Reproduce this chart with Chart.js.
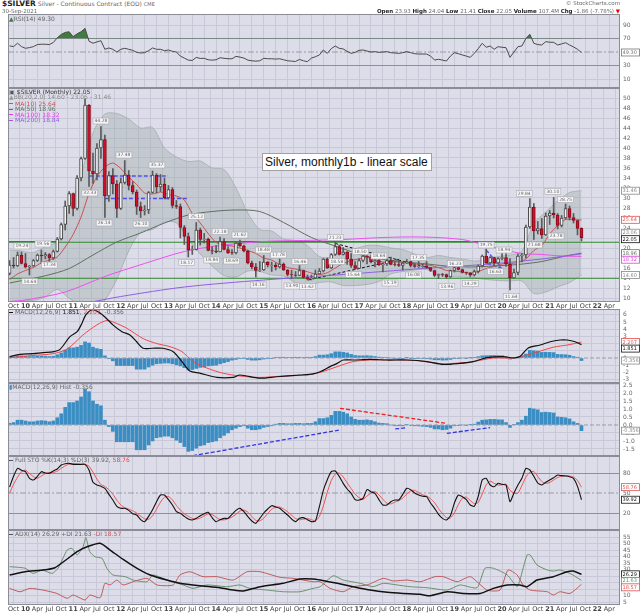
<!DOCTYPE html>
<html>
<head>
<meta charset="utf-8">
<title>$SILVER monthly</title>
<script src="https://cdn.jsdelivr.net/npm/chart.js@4.4.1/dist/chart.umd.min.js"></script>
<style>
  html, body { margin: 0; padding: 0; background: #fff; }
  body { position: relative; width: 640px; height: 614px; overflow: hidden; font-family: "DejaVu Sans", sans-serif; }
  canvas { position: absolute; left: 0; }
  .txt { position: absolute; white-space: nowrap; color: #666; font-size: 6px; line-height: 7px; z-index: 5; }
  .txt b { color: #222; }
  .sw { display: inline-block; width: 4px; height: 1px; vertical-align: middle; margin-right: 2px; }
  #note { position: absolute; left: 262px; top: 153px; width: 166px; height: 16px; background: #fff; border: 1px solid #a0a0a0;
          font: 12px "Liberation Sans", Arial, sans-serif; line-height: 16px; padding-left: 2px; color: #111; z-index: 5; }
</style>
</head>
<body>
<div class="txt" style="left:2px;top:0px;"><b style="font-size:7.5px">$SILVER</b> Silver - Continuous Contract (EOD) <span style="font-size:5px">CME</span></div>
<div class="txt" style="left:2px;top:8px;font-size:5.5px">30-Sep-2021</div>
<div class="txt" style="right:20px;top:0px;font-size:5.5px">&copy; StockCharts.com</div>
<div class="txt" style="right:20px;top:8px;font-size:5.5px"><b>Open</b> 23.93 <b>High</b> 24.04 <b>Low</b> 21.41 <b>Close</b> 22.05 <b>Volume</b> 107.4M <b>Chg</b> -1.86 (-7.78%) <span style="color:#e00">&#9660;</span></div>

<div class="txt" style="left:9px;top:15px;"><span style="color:#3e7d3e">&#9650;</span>RSI(14) 49.30</div>

<div class="txt" style="left:9px;top:88px;color:#333"><span style="color:#555">&#9635;</span> $SILVER (Monthly) 22.05</div>
<div class="txt" style="left:9px;top:93px;color:#888"><span style="color:#999">&#9650;</span>BB(20,2.0) 14.60 - 23.06 - 31.46</div>
<div class="txt" style="left:9px;top:99.5px;color:#c85050"><span class="sw" style="background:#c85050"></span>MA(10) 25.64</div>
<div class="txt" style="left:9px;top:105px;color:#5f705f"><span class="sw" style="background:#5f705f"></span>MA(50) 18.96</div>
<div class="txt" style="left:9px;top:110.5px;color:#e040e0"><span class="sw" style="background:#e040e0"></span>MA(100) 18.32</div>
<div class="txt" style="left:9px;top:116px;color:#9060e0"><span class="sw" style="background:#9060e0"></span>MA(200) 18.84</div>

<div id="note">Silver, monthly1b - linear scale</div>

<div class="txt" style="left:9px;top:308px;"><span class="sw" style="background:#111"></span>MACD(12,26,9) <span style="color:#111">1.851</span>, <span style="color:#e44">2.207</span>, -0.356</div>
<div class="txt" style="left:9px;top:383px;"><span style="color:#3b8ec3">&#9646;</span>MACD(12,26,9) Hist -0.356</div>
<div class="txt" style="left:9px;top:456px;"><span class="sw" style="background:#555"></span>Full STO %K(14,3) %D(3) 39.92, <span style="color:#e44">58.76</span></div>
<div class="txt" style="left:9px;top:530px;"><span class="sw" style="background:#555"></span>ADX(14) 26.29 +DI 21.63 <span style="color:#c05a5a">-DI 18.57</span></div>

<canvas id="rsi"></canvas>
<canvas id="main"></canvas>
<canvas id="macd"></canvas>
<canvas id="hist"></canvas>
<canvas id="sto"></canvas>
<canvas id="adx"></canvas>

<script>
// months are counted from Jan 2010 (= 0); monthly series start at Sep 2009
const firstMonth = -4;
const monthNames = ['Jan','Feb','Mar','Apr','May','Jun','Jul','Aug','Sep','Oct','Nov','Dec'];

// monthly candles, Sep 2009 .. Sep 2021
const openP = [14.9, 16.6, 16.4, 18.6,
  16.9, 16.2, 16.4, 17.5, 18.6, 18.4, 18.7, 18.0, 19.3, 21.8, 24.7, 28.4,
  30.9, 27.9, 34.0, 37.9, 48.6, 35.4, 34.8, 40.0, 41.7, 30.4, 34.5, 32.8,
  27.9, 33.1, 34.6, 32.5, 31.2, 28.3, 27.4, 27.6, 31.1, 34.6, 32.2, 32.8,
  30.0, 31.7, 28.5, 28.3, 24.1, 22.3, 19.6, 19.7, 23.6, 21.7, 21.8, 19.5,
  19.4, 19.2, 21.3, 19.7, 19.1, 19.0, 21.0, 20.4, 19.4, 17.0, 16.2, 15.5,
  15.6, 17.2, 16.5, 16.6, 16.2, 16.8, 15.6, 14.7, 14.6, 14.5, 15.5, 14.1,
  13.8, 14.0, 14.8, 15.4, 17.8, 16.0, 18.7, 20.3, 18.7, 19.2, 17.8, 16.5,
  15.9, 17.5, 18.4, 18.2, 17.2, 17.5, 16.6, 16.8, 17.5, 16.8, 16.7, 16.5,
  17.0, 17.3, 16.5, 16.2, 16.3, 16.4, 16.1, 15.5, 14.5, 14.8, 14.7, 14.2,
  15.5, 16.1, 15.7, 15.1, 15.0, 14.6, 15.3, 16.4, 18.4, 17.0, 18.1, 17.0,
  17.9, 18.1, 16.8, 14.0, 15.1, 18.4, 18.6, 24.2, 28.2, 23.4, 23.9, 22.6,
  26.4, 27.0, 26.6, 24.5, 26.0, 27.9, 26.1, 25.5, 23.93];
const highP = [17.5, 18.1, 19.2, 19.2,
  18.9, 16.5, 17.7, 18.8, 19.6, 19.1, 18.9, 19.6, 22.1, 25.0, 29.4, 31.3,
  31.0, 34.5, 38.2, 49.8, 48.7, 39.0, 40.9, 44.3, 42.6, 35.3, 35.9, 33.5,
  34.0, 37.5, 35.5, 33.3, 31.6, 29.2, 28.5, 31.3, 35.4, 34.9, 34.7, 34.0,
  32.5, 32.1, 29.5, 28.8, 24.5, 23.0, 20.4, 25.1, 24.0, 22.9, 22.0, 20.3,
  20.5, 22.2, 21.9, 20.3, 19.7, 21.2, 21.6, 20.6, 19.6, 17.4, 16.9, 17.3,
  18.5, 17.3, 17.2, 17.0, 17.8, 17.0, 15.7, 15.6, 15.3, 16.5, 15.6, 14.6,
  14.6, 15.6, 15.9, 17.9, 18.0, 18.9, 21.2, 20.6, 20.1, 19.3, 18.9, 17.3,
  17.9, 18.5, 18.5, 18.6, 17.6, 17.8, 16.8, 17.9, 18.2, 17.4, 17.5, 17.1,
  17.7, 17.4, 16.9, 17.3, 16.8, 17.3, 16.1, 15.6, 14.8, 14.9, 14.8, 15.6,
  16.2, 16.2, 15.8, 15.2, 15.1, 15.6, 16.6, 18.6, 19.8, 18.3, 18.2, 18.1,
  18.9, 18.9, 17.9, 15.8, 18.8, 18.9, 24.6, 29.9, 28.9, 25.3, 25.9, 27.0,
  27.5, 30.1, 26.9, 26.5, 28.8, 28.4, 26.9, 25.5, 24.04];
const lowP = [14.6, 16.0, 16.3, 16.8,
  16.0, 14.6, 16.3, 17.3, 16.9, 17.8, 17.3, 17.7, 19.2, 21.6, 23.6, 26.9,
  26.4, 27.6, 33.4, 37.7, 32.3, 32.9, 33.6, 37.9, 26.1, 29.3, 30.8, 26.1,
  27.7, 32.8, 31.6, 30.8, 26.7, 26.1, 26.6, 26.9, 31.0, 31.0, 31.3, 29.8,
  29.8, 28.0, 27.9, 22.0, 20.7, 18.2, 18.7, 19.6, 20.6, 21.0, 19.4, 18.8,
  19.0, 19.2, 19.6, 18.9, 18.7, 18.8, 20.3, 19.2, 16.8, 15.8, 14.2, 15.3,
  15.5, 16.2, 15.3, 15.6, 16.0, 15.5, 14.4, 13.9, 14.3, 14.5, 13.9, 13.6,
  13.6, 13.9, 14.8, 15.2, 15.9, 15.9, 18.5, 18.6, 18.6, 16.7, 16.1, 15.7,
  15.9, 17.2, 16.8, 17.0, 16.2, 16.5, 15.2, 16.5, 16.6, 16.4, 16.3, 15.6,
  16.9, 16.2, 16.1, 16.1, 16.1, 15.9, 15.3, 14.3, 13.9, 14.3, 13.9, 14.1,
  15.2, 15.6, 15.0, 14.7, 14.3, 14.4, 15.0, 16.2, 16.9, 16.9, 16.6, 16.9,
  17.6, 16.3, 11.6, 13.9, 14.6, 17.2, 18.0, 23.9, 21.7, 22.8, 21.9, 22.5,
  24.7, 26.0, 23.8, 24.2, 25.8, 25.6, 25.0, 22.6, 21.41];
const closeP = [16.6, 16.4, 18.6, 16.9,
  16.2, 16.4, 17.5, 18.6, 18.4, 18.7, 18.0, 19.3, 21.8, 24.7, 28.4, 30.9,
  27.9, 34.0, 37.9, 48.6, 35.4, 34.8, 40.0, 41.7, 30.4, 34.5, 32.8, 27.9,
  33.1, 34.6, 32.5, 31.2, 28.3, 27.4, 27.6, 31.1, 34.6, 32.2, 32.8, 30.0,
  31.7, 28.5, 28.3, 24.1, 22.3, 19.6, 19.7, 23.6, 21.7, 21.8, 19.5, 19.4,
  19.2, 21.3, 19.7, 19.0, 19.0, 21.0, 20.4, 19.4, 17.0, 16.2, 15.5, 15.6,
  17.2, 16.6, 16.6, 16.2, 16.8, 15.6, 14.7, 14.6, 14.5, 15.5, 14.1, 13.8,
  14.0, 14.8, 15.4, 17.8, 16.0, 18.7, 20.3, 18.7, 19.2, 17.8, 16.5, 15.9,
  17.5, 18.4, 18.2, 17.2, 17.5, 16.6, 16.8, 17.5, 16.7, 16.7, 16.5, 17.0,
  17.3, 16.5, 16.3, 16.3, 16.4, 16.1, 15.5, 14.5, 14.7, 14.7, 14.2, 15.5,
  16.1, 15.7, 15.1, 15.0, 14.6, 15.3, 16.4, 18.4, 17.0, 18.1, 17.0, 17.9,
  18.1, 16.8, 14.0, 15.1, 18.4, 18.6, 24.2, 28.2, 23.4, 23.9, 22.6, 26.4,
  27.0, 26.6, 24.5, 26.0, 27.9, 26.1, 25.5, 23.9, 22.05];

// MA(10), every second month from Sep 2009
const ma10Start = -4, ma10Step = 2;
const ma10 = [13.7, 14.8, 15.5, 16.1, 17.05, 17.6, 18.2, 20.2, 22.7, 26.2, 30.9, 34.3, 36.2, 37.0, 35.9,
  34.2, 32.7, 31.0, 30.8, 31.2, 30.7, 30.4, 29.6, 26.9, 25.0, 22.9, 21.1, 20.6, 20.4, 20.0, 19.5, 18.9,
  18.0, 17.6, 16.7, 16.1, 15.8, 15.5, 15.0, 14.7, 15.05, 16.0, 16.9, 17.5, 17.8, 18.1, 17.7, 17.2, 17.2,
  17.2, 17.0, 16.8, 16.7, 16.5, 16.1, 15.5, 15.4, 15.2, 15.0, 15.3, 15.9, 16.3, 16.8, 16.9, 17.1, 17.8,
  19.5, 20.5, 22.8, 24.5, 25.7, 25.7, 25.6];

// Bollinger bands (20,2), every third month from Sep 2009
const bbStart = -4, bbStep = 3;
const bbUpper = [19.6, 19.4, 19.1, 20.3, 21.3, 27.6, 34.6, 43.0, 46.8, 46.9, 45.8, 44.0, 44.1, 40.0, 38.2,
  37.3, 37.4, 36.0, 35.7, 32.0, 27.0, 23.7, 23.4, 21.8, 21.5, 20.5, 18.3, 18.2, 19.9, 19.9, 20.5, 20.5,
  20.0, 19.7, 18.8, 18.1, 18.5, 18.1, 17.8, 17.4, 17.7, 18.3, 18.6, 19.4, 24.9, 27.2, 29.4, 31.1, 31.46];
const bbLower = [9.2, 9.4, 9.5, 10.2, 11.7, 9.9, 8.6, 7.3, 9.6, 13.7, 19.4, 23.2, 23.7, 25.2, 25.0,
  21.7, 18.8, 16.4, 14.5, 14.2, 15.4, 15.3, 14.6, 14.4, 13.1, 12.5, 13.1, 13.2, 12.5, 12.5, 12.7, 13.3,
  14.8, 15.3, 15.6, 15.7, 14.7, 14.3, 14.2, 14.0, 13.7, 13.5, 13.4, 13.4, 10.9, 11.2, 12.2, 13.1, 14.60];

// slower moving averages, read at the months listed
const ma50Months = [-4, 5, 11, 17, 23, 29, 35, 41, 47, 53, 59, 65, 72, 78, 86, 94, 100, 106, 112, 118, 124, 130, 136, 140];
const ma50 = [13.0, 14.45, 15.9, 18.6, 21.2, 23.0, 25.0, 26.6, 27.3, 27.6, 27.3, 25.1, 22.1, 20.4, 18.3, 17.3, 16.9, 16.4, 16.2, 16.4, 16.7, 17.3, 18.4, 18.96];
const ma100Months = [-4, 0, 10, 20, 30, 40, 49, 60, 70, 80, 90, 100, 110, 115, 120, 125, 130, 135, 140];
const ma100 = [9.3, 9.6, 11.2, 14.3, 16.9, 19.3, 20.5, 21.3, 21.5, 21.7, 22.1, 22.2, 21.7, 20.7, 19.75, 18.9, 18.7, 18.4, 18.32];
const ma200Months = [10, 15, 24, 40, 60, 80, 100, 110, 120, 130, 140];
const ma200 = [8.6, 9.0, 10.3, 12.2, 13.6, 14.7, 15.9, 16.4, 17.0, 17.8, 18.84];

// drawn support / resistance levels and trend lines (month, price)
const greenLevels = [21.15, 13.95];
const redLevel = 21.3;
const redLevelSpans = [[-4.4, 8], [41, 126]];
const blueDashMonths = [[16.2, 35.9], [20, 40.9], [116, 120], [116.2, 120]];
const blueDashPrices = [[34.4, 34.4], [29.9, 29.9], [19.6, 15.9], [16.9, 15.9]];
const blackDashMonths = [[71.2, 94.3], [78, 101.9]];
const blackDashPrices = [[13.6, 17.74], [20.9, 15.94]];

// price notes on highs and lows
const noteMonths = [19.0, 24.8, 33.1, 16.2, 19.8, 29.1, -0.9, 4.4, 6.0, 1.1, 43.1, 40.6, 46.9, 49.0, 54.0, 51.9,
  59.9, 63.7, 58.6, 67.1, 71.0, 69.1, 78.0, 78.4, 84.3, 89.0, 82.6, 91.8, 98.9, 97.7, 106.1, 108.2, 112.0,
  116.0, 120.5, 118.3, 122.3, 125.6, 128.1, 132.8, 133.6, 136.0];
const notePrices = [45.4, 38.6, 36.6, 31.0, 25.0, 24.8, 20.4, 20.8, 16.6, 13.3, 26.3, 17.1, 17.6, 23.3, 22.6, 17.4,
  19.6, 18.6, 12.6, 12.4, 12.3, 17.3, 22.1, 17.3, 19.3, 18.4, 14.7, 13.0, 18.1, 14.6, 12.3, 16.9, 12.9,
  20.6, 19.6, 15.3, 10.3, 30.9, 20.6, 31.3, 22.4, 29.7];
const noteTexts = ['44.28', '37.48', '35.37', '32.33', '26.14', '26.10', '19.24', '19.56', '17.34', '14.64', '25.12', '18.17',
  '18.84', '22.18', '21.62', '18.69', '18.48', '17.78', '14.16', '13.90', '13.62', '16.46', '21.23', '18.58', '18.50',
  '18.64', '15.64', '15.19', '17.35', '16.08', '13.96', '16.23', '14.29', '19.75', '18.94', '16.63', '11.64', '29.84',
  '21.68', '30.10', '23.78', '28.75'];

// RSI(14), monthly from Sep 2009
const rsi = [59, 58, 63, 58,
  55.5, 56.5, 58, 61, 61.5, 61.5, 61, 64, 71, 76, 79, 80,
  72.7, 77, 80, 85, 66, 63, 65, 66.7, 54, 56, 54, 50,
  54, 55.5, 54, 52.5, 49.5, 48.5, 49, 52, 56, 54, 54, 52,
  53, 51, 50, 44, 41, 38, 37.5, 42, 40.5, 40.7, 38.5, 38,
  38.5, 41.5, 40.7, 40, 40, 43.5, 42.5, 41, 38, 37, 36.5, 37,
  40.7, 40, 40, 39.5, 40, 38.5, 37, 36.5, 36, 39, 37, 35.7,
  41, 43, 45.6, 53, 48, 55, 58.9, 55.5, 54.5, 51, 48, 49.5,
  52.5, 53, 51.5, 50, 50.5, 49.5, 50, 50.5, 49, 48.5, 48, 49,
  50.5, 49, 47.5, 47, 47, 47, 44, 38.1, 39.2, 38, 36.7, 44,
  49, 47.5, 45.6, 44, 42.1, 48, 55, 62.9, 57, 58.9, 54, 57.9,
  57, 56.4, 42.1, 50, 57.9, 58.9, 70, 76.2, 62.9, 61, 60.4, 65.3,
  64.5, 64.3, 60.4, 62, 63.8, 60.4, 57.5, 54, 49.3];

// MACD(12,26,9) line and signal, read at the months listed
const macdMonths = [-4, -1.4, 1.9, 4.4, 6.9, 8.7, 11.2, 13, 14.2, 15.2, 16.8, 18.3, 20, 22, 24.3, 26.3, 28, 29.6,
  31.9, 34.6, 37.2, 39.4, 41.4, 43.9, 48.2, 52.3, 54, 59, 63.3, 69.1, 72.4, 74.2, 76.7, 78.5, 80, 82.5, 86.8,
  91, 96, 101.1, 105.2, 109.4, 112.7, 116.2, 120.3, 122.8, 124.5, 126.6, 129.6, 132.1, 134.6, 136.4, 138.4, 140];
const macdLine = [0.18, 0.5, 0.6, 0.75, 0.85, 1.2, 2.96, 3.65, 4.8, 6.0, 6.7, 6.4, 5.7, 4.6, 3.65, 3.2, 2.26, 1.35,
  1.35, 1.35, 0.88, -0.5, -1.8, -2.1, -2.7, -2.7, -2.36, -2.8, -2.6, -2.36, -2.2, -1.9, -1.2, -0.75, -0.28, -0.28,
  -0.2, -0.28, -0.28, -0.5, -0.9, -0.75, -0.5, 0.05, 0.2, 0.0, 0.2, 1.4, 1.8, 2.26, 2.5, 2.5, 2.26, 1.851];
const signalMonths = [-4, 1.9, 6.9, 10.5, 14.5, 18, 20.5, 22.5, 25.6, 29.6, 33.1, 36.4, 39.4, 42.2, 45.7, 49.7, 54, 59,
  64.9, 70.9, 74.2, 78.5, 82.5, 86.8, 95.1, 99.4, 103.7, 107.7, 112.7, 117.8, 122.8, 126.3, 129.6, 132.9, 136.4, 140];
const signalLine = [0.05, 0.35, 0.6, 1.25, 3.2, 4.6, 5.2, 4.9, 4.1, 2.7, 2.0, 1.57, 0.88, -0.5, -1.4, -2.1, -2.5, -2.7,
  -2.5, -2.36, -2.0, -1.2, -0.5, -0.28, -0.28, -0.4, -0.75, -0.75, -0.5, 0, 0, 0.4, 0.95, 1.5, 1.8, 2.207];

// MACD histogram, monthly from Sep 2009
const macdHist = [0.1, 0.15, 0.3, 0.3,
  0.25, 0.2, 0.2, 0.25, 0.27, 0.25, 0.2, 0.25, 0.45, 0.7, 1.1, 1.4,
  1.4, 1.5, 1.75, 2.24, 2.08, 1.5, 1.3, 1.2, 0.3, -0.1, -0.4, -1.05,
  -1.05, -1.05, -1.05, -1.05, -1.55, -1.55, -1.55, -1.25, -1.0, -0.8, -0.75, -0.7,
  -0.7, -0.8, -0.95, -1.1, -1.35, -1.65, -1.6, -1.45, -1.3, -1.25, -1.1, -1.05,
  -1.0, -0.8, -0.65, -0.5, -0.3, -0.2, -0.1, -0.05, -0.2, -0.3, -0.3, -0.25,
  -0.15, -0.1, -0.05, 0.05, 0.1, 0.1, 0.08, 0.08, 0.1, 0.1, 0.08, 0.1,
  0.1, 0.2, 0.4, 0.4, 0.45, 0.6, 0.85, 0.85, 0.8, 0.7, 0.5, 0.35,
  0.3, 0.3, 0.32, 0.28, 0.2, 0.12, 0.1, 0.08, 0.0, -0.05, -0.05, -0.05,
  0.02, -0.03, -0.05, -0.06, -0.08, -0.1, -0.15, -0.25, -0.25, -0.3, -0.28, -0.2,
  -0.05, -0.02, 0.0, -0.02, 0.02, 0.05, 0.18, 0.3, 0.32, 0.35, 0.35, 0.33,
  0.32, 0.15, -0.15, 0.02, 0.15, 0.3, 0.55, 1.05, 1.0, 0.95, 0.78, 0.8,
  0.78, 0.75, 0.5, 0.48, 0.45, 0.38, 0.2, 0.1, -0.356];
const histRedMonths = [79.2, 106.1];
const histRedValues = [1.04, 0.1];
const histBlueMonths = [[42.2, 79.2], [93.1, 96.1], [106.1, 117]];
const histBlueValues = [[-1.92, -0.31], [-0.25, -0.17], [-0.52, -0.17]];

// Full stochastics, monthly from Sep 2009
const stoK = [59, 75, 87, 84,
  82, 72, 69.5, 75, 82, 80, 79.5, 83, 86, 92, 94, 94.5,
  93, 93, 93, 93, 84.5, 66, 62, 60, 57, 48, 39.5, 30,
  27, 27, 24, 19, 17, 10, 7, 15, 25, 37, 47, 47,
  40, 32, 22, 19.5, 15, 11, 9.5, 12, 16, 19, 21, 13,
  7, 10, 12, 12, 18, 24, 27, 22, 14.5, 8, 4.5, 12,
  20, 26, 31, 29, 27, 22, 17, 11, 7, 12, 13, 10,
  7, 8, 29.5, 54, 70, 82, 83, 75, 64.5, 56, 49.5, 40,
  39.5, 42, 55, 52, 49.5, 40, 32, 32, 37, 39.5, 39.5, 48,
  57, 55, 50, 47, 45, 44.5, 35, 27, 18, 12, 9.5, 16,
  35, 47, 44.5, 40, 32, 30, 45, 69.5, 72, 62, 59.4, 64.5,
  63, 62, 37, 50, 62, 72, 87, 84.5, 75, 65, 62, 66,
  69.5, 73, 77, 76, 75.5, 74.5, 72, 60, 39.92];
const stoD = [50, 63, 73.7, 82,
  84.3, 79.3, 74.5, 72.2, 75.5, 79, 80.5, 80.8, 82.8, 87, 90.7, 93.5,
  93.8, 93.5, 93, 93, 90.2, 81.2, 70.8, 62.7, 59.7, 55, 48.2, 39.2,
  32.2, 28, 26, 23.3, 20, 15.3, 11.3, 10.7, 15.7, 25.7, 36.3, 43.7,
  44.7, 39.7, 31.3, 24.5, 18.8, 15.2, 11.8, 10.8, 12.5, 15.7, 18.7, 17.7,
  13.7, 10, 9.7, 11.3, 14, 18, 23, 24.3, 21.2, 14.8, 9, 8.2,
  12.2, 19.3, 25.7, 28.7, 29, 26, 22, 16.7, 11.7, 10, 10.7, 11.7,
  10, 8.3, 14.8, 30.5, 51.2, 68.7, 78.3, 80, 74.2, 65.2, 56.7, 48.5,
  43, 40.5, 45.5, 49.7, 52.2, 47.2, 40.5, 34.7, 33.7, 36.2, 38.7, 42.3,
  48.2, 53.3, 54, 50.7, 47.3, 45.5, 41.5, 35.5, 26.7, 19, 13.2, 12.5,
  20.2, 32.7, 42.2, 43.8, 38.8, 34, 35.7, 48.2, 62.2, 67.8, 64.5, 62,
  62.3, 63.2, 54, 49.7, 49.7, 61.3, 73.7, 81.2, 82.2, 74.8, 67.3, 64.3,
  65.8, 69.5, 73.2, 75.3, 76.2, 75.3, 74, 68.8, 58.76];

// ADX(14) and directional indicators, read at the months listed
const adxMonths = [-4, -0.1, 4.4, 7.4, 10.5, 13, 15.5, 18.8, 21.3, 24.6, 28.1, 31.4, 35.6, 38.9, 43.9, 49, 52.3, 54.8,
  59.1, 64.9, 69.1, 72.4, 74.2, 78.5, 82.5, 86.8, 91.1, 95.1, 99.4, 101.9, 106.2, 110.2, 114.5, 117.8, 121.3, 124.5,
  126.3, 128.8, 132.9, 136.4, 137.9, 140];
const adx = [25.8, 28.3, 29.6, 31.4, 38.1, 43.7, 47.5, 50.2, 45, 37.8, 30.9, 25.8, 21.9, 19.4, 17.5, 16, 14.2, 13.5,
  16.8, 19.4, 22.7, 22.7, 21.9, 19.4, 16.8, 14.2, 12.5, 11.6, 10.9, 9.8, 12.9, 11.6, 11.6, 15.5, 18.1, 18.1,
  16.8, 21.9, 24.5, 28.3, 28.8, 26.29];
const plusDIMonths = [-4, -0.1, 1.9, 4.2, 6.7, 8.2, 10.5, 11.7, 13, 14.5, 15.2, 16.2, 17.5, 19.3, 20.5, 22, 25.1, 27.1,
  30.6, 32.1, 35.6, 39.7, 42.2, 45.7, 50.8, 54, 56.5, 60.8, 64.9, 69.1, 72.4, 74.2, 77.5, 80, 84.3, 87.5,
  90.1, 93.6, 96.8, 101.1, 106.2, 109.4, 113.7, 115.7, 117.8, 121.3, 123.8, 124.5, 126.3, 127.1, 128.8, 131.4,
  132.9, 134.6, 137.1, 140];
const plusDI = [32.2, 31, 27, 29.6, 27, 31, 45, 46.3, 41.2, 47.5, 54.5, 43.7, 39.8, 38.6, 30.9, 25.8, 24.5, 21.9,
  20.6, 25.8, 21.9, 18.1, 15.5, 18.1, 16.8, 18.1, 15.5, 14.2, 12.9, 12.9, 15.5, 16.8, 25.2, 21.9, 19.4, 16.8,
  19.4, 18.1, 16.8, 16, 14.2, 18.1, 16, 31, 31, 25.8, 16.8, 21.9, 41.2, 41.2, 33.5, 29.6, 28.8, 29.6, 27, 21.63];
const minusDIMonths = [-4, -1.4, 1.1, 4.4, 7.9, 10.5, 12, 15, 16.2, 18.8, 20, 21.3, 23, 24.6, 27.1, 30.6, 33.1, 37.2,
  38.9, 41.4, 44.7, 48.2, 52.3, 55.8, 59.1, 64.1, 67.4, 72.4, 74.2, 76.7, 80, 82.5, 86, 90.1, 92.6, 96.1,
  99.4, 103.1, 105.2, 108.7, 112, 116.2, 119.5, 121.5, 123.8, 125.3, 127.1, 131.4, 132.9, 134.6, 137.1, 140];
const minusDI = [15.5, 12.9, 15.5, 14.2, 11.6, 7.8, 10.4, 6.5, 10.4, 8.3, 19.4, 18.1, 21.9, 18.1, 20.6, 23.2, 18.1, 18.1,
  25.8, 28.3, 24.5, 24.5, 21.9, 28.3, 28.3, 24, 23.2, 20.6, 20.6, 15.5, 12.9, 16.8, 18.1, 23.2, 21.2, 21.9,
  20.6, 24.5, 24.5, 20.6, 24.5, 14.2, 14.2, 29.6, 25.8, 18.1, 14.2, 12.9, 10.4, 12.9, 11.6, 18.57];

// axis ticks
const quarterTicks = [];
for (let m = -3; m <= 147; m += 3) quarterTicks.push(m);
const rsiTicks = [10, 30, 50, 70, 90];
const priceTicks = [10, 12, 14, 16, 18, 20, 22, 24, 26, 28, 30, 32, 34, 36, 38, 40, 42, 44, 46, 48, 50];
const macdTicks = [-3, -2, -1, 0, 1, 2, 3, 4, 5, 6];
const histTicks = [-1.5, -1.0, -0.5, 0.0, 0.5, 1.0, 1.5, 2.0, 2.5];
const stoTicks = [20, 50, 80];
const adxTicks = [5, 10, 15, 20, 25, 30, 35, 40, 45, 50, 55];

// ---------------------------------------------------------------------
const X_MIN = -4.4, X_MAX = 149.7, PAD = 5;
const BG = '#dddde9', GRID = '#c8c8d9', DARK = '#8e8e9e';
Chart.defaults.font.family = '"DejaVu Sans", sans-serif';

const monthly = (vals) => vals.map((v, i) => ({ x: firstMonth + i, y: v }));
const stepped = (vals, start, step) => vals.map((v, i) => ({ x: start + i * step, y: v }));
const paired = (ms, vals) => ms.map((m, i) => ({ x: m, y: vals[i] }));

function lineSet(data, color, width, extra) {
  return Object.assign({ type: 'line', data, borderColor: color, borderWidth: width, pointRadius: 0,
    fill: false, tension: 0, order: 2 }, extra || {});
}
function segment(ms, vs, color, width, dash) {
  return lineSet([{ x: ms[0], y: vs[0] }, { x: ms[1], y: vs[1] }], color, width, { borderDash: dash || [], order: 3 });
}
function hline(v, color, dash) {
  return segment([X_MIN, X_MAX], [v, v], color, 1, dash);
}
function quarterLabel(v) {
  const m = ((v % 12) + 12) % 12;
  return m === 0 ? String(2010 + v / 12).slice(2) : monthNames[m];
}

const panelFrame = {
  id: 'panelFrame',
  beforeDraw(chart) {
    const { ctx, chartArea: a } = chart;
    ctx.save();
    ctx.fillStyle = BG;
    ctx.fillRect(a.left, a.top, a.width, a.height);
    ctx.restore();
  },
  afterDraw(chart) {
    const { ctx, chartArea: a } = chart;
    ctx.save();
    ctx.strokeStyle = '#8c8c98';
    ctx.lineWidth = 1;
    ctx.strokeRect(Math.round(a.left) + 0.5, Math.round(a.top) + 0.5, Math.round(a.width) - 1, Math.round(a.height) - 1);
    ctx.restore();
  }
};

function valueBoxes(vals, colors, digits) {
  return {
    id: 'valueBoxes',
    afterDraw(chart) {
      const { ctx, chartArea: a, scales: { y } } = chart;
      ctx.save();
      ctx.font = '5px "DejaVu Sans"';
      ctx.textBaseline = 'middle';
      ctx.textAlign = 'left';
      let last = -99;
      vals.map((v, i) => ({ v, c: colors[i], py: y.getPixelForValue(v) }))
        .sort((p, q) => p.py - q.py)
        .forEach(b => {
          const py = Math.max(b.py, last + 6.5);
          last = py;
          ctx.fillStyle = '#fff';
          ctx.fillRect(a.right + 1.5, py - 3.5, 18, 7);
          ctx.strokeStyle = b.c;
          ctx.lineWidth = 0.8;
          ctx.strokeRect(a.right + 1.5, py - 3.5, 18, 7);
          ctx.fillStyle = b.c;
          ctx.fillText(b.v.toFixed(digits), a.right + 2.5, py + 0.3);
        });
      ctx.restore();
    }
  };
}

const priceNotes = {
  id: 'priceNotes',
  afterDatasetsDraw(chart) {
    const { ctx, scales: { x, y } } = chart;
    ctx.save();
    ctx.font = '4.5px "DejaVu Sans"';
    ctx.textAlign = 'center';
    ctx.textBaseline = 'middle';
    noteMonths.forEach((m, i) => {
      const px = x.getPixelForValue(m), py = y.getPixelForValue(notePrices[i]);
      const w = ctx.measureText(noteTexts[i]).width + 3, h = 6;
      ctx.fillStyle = '#f4f4f6';
      ctx.fillRect(px - w / 2, py - h / 2, w, h);
      ctx.strokeStyle = '#a8a8b0';
      ctx.lineWidth = 0.6;
      ctx.strokeRect(px - w / 2, py - h / 2, w, h);
      ctx.fillStyle = '#666';
      ctx.fillText(noteTexts[i], px, py + 0.3);
    });
    ctx.restore();
  }
};

function makePanel(id, top, height, axisH, cfg) {
  const cv = document.getElementById(id);
  cv.width = 640;
  cv.height = PAD + height + (axisH || PAD);
  cv.style.top = (top - PAD) + 'px';
  const hidden = cfg.hiddenGrid || [];
  const dark = cfg.darkGrid || [];
  return new Chart(cv, {
    type: 'line',
    data: { datasets: cfg.datasets },
    plugins: [panelFrame].concat(cfg.plugins || []),
    options: {
      responsive: false, animation: false, events: [],
      layout: { padding: { left: 8, right: 0, top: PAD, bottom: axisH ? 0 : PAD } },
      plugins: { legend: { display: false }, tooltip: { enabled: false } },
      scales: {
        x: {
          type: 'linear', min: X_MIN, max: X_MAX, offset: false,
          afterBuildTicks: s => { s.ticks = quarterTicks.map(v => ({ value: v })); },
          afterFit: s => { s.height = axisH || 0; s.paddingLeft = 0; s.paddingRight = 0; },
          grid: { color: GRID, drawTicks: false },
          border: { display: false },
          ticks: {
            display: !!axisH, padding: 0, autoSkip: false, maxRotation: 0, color: '#444',
            font: c => ({ size: 6.5, weight: (c.tick && c.tick.value % 12 === 0) ? 'bold' : 'normal' }),
            callback: v => quarterLabel(v)
          }
        },
        y: {
          type: 'linear', position: 'right', min: cfg.yMin, max: cfg.yMax,
          afterBuildTicks: s => { s.ticks = cfg.yTicks.map(v => ({ value: v })); },
          afterFit: s => { s.width = 20; s.paddingTop = 0; s.paddingBottom = 0; },
          grid: {
            drawTicks: false,
            color: c => {
              const v = c.tick ? c.tick.value : null;
              if (hidden.includes(v)) return 'rgba(0,0,0,0)';
              return dark.includes(v) ? DARK : GRID;
            }
          },
          border: { display: false },
          ticks: { padding: 3, autoSkip: false, color: '#666', font: { size: 6 }, callback: v => cfg.fmt ? cfg.fmt(v) : v }
        }
      }
    }
  });
}

// RSI panel
makePanel('rsi', 14, 74, 0, {
  yMin: -3.3, yMax: 106.3, yTicks: rsiTicks, darkGrid: [70, 30], hiddenGrid: [50],
  datasets: [
    hline(50, '#9a9aa8', [6, 2, 2, 2]),
    lineSet(monthly(rsi), '#4a4a4a', 1, { fill: { target: { value: 70 }, above: '#3e7d3e', below: 'rgba(0,0,0,0)' } })
  ],
  plugins: [valueBoxes([49.3], ['#777'], 2)]
});

// price panel
const wickData = closeP.map((c, i) => ({ x: firstMonth + i, y: [lowP[i], highP[i]] }));
const bodyData = closeP.map((c, i) => ({ x: firstMonth + i, y: [openP[i], c] }));
const isDown = i => closeP[i] < openP[i];
const mainSets = [
  lineSet(stepped(bbUpper, bbStart, bbStep), '#a4adad', 0.8, { tension: 0.3, order: 10, fill: '+1', backgroundColor: 'rgba(150,165,160,0.36)' }),
  lineSet(stepped(bbLower, bbStart, bbStep), '#a4adad', 0.8, { tension: 0.3, order: 10 }),
  lineSet(paired(ma200Months, ma200), '#9060e0', 1, { tension: 0.3 }),
  lineSet(paired(ma100Months, ma100), '#f050f0', 1, { tension: 0.3 }),
  lineSet(paired(ma50Months, ma50), '#5f705f', 1, { tension: 0.3 }),
  lineSet(stepped(ma10, ma10Start, ma10Step), '#c85050', 1, { tension: 0.25 })
];
greenLevels.forEach(v => mainSets.push(hline(v, '#2e8b2e', [])));
redLevelSpans.forEach(s => mainSets.push(segment(s, [redLevel, redLevel], '#ff2020', 1.2)));
blueDashMonths.forEach((m, i) => mainSets.push(segment(m, blueDashPrices[i], '#5050f0', 1.4, [4, 2])));
blackDashMonths.forEach((m, i) => mainSets.push(segment(m, blackDashPrices[i], '#111', 1, [3, 2])));
mainSets.push({
  type: 'bar', data: wickData, backgroundColor: '#5a5a5a', barThickness: 1, grouped: false, order: 1
});
mainSets.push({
  type: 'bar', data: bodyData, barThickness: 3, grouped: false, order: 0, borderWidth: 1, borderSkipped: false,
  backgroundColor: c => isDown(c.dataIndex) ? '#d0102c' : '#f2f2f7',
  borderColor: c => isDown(c.dataIndex) ? '#8a0a1c' : '#4a4a4a'
});
makePanel('main', 88, 214, 7, {
  yMin: 9.2, yMax: 52, yTicks: priceTicks, datasets: mainSets,
  plugins: [priceNotes, valueBoxes([31.46, 25.64, 23.06, 22.05, 18.96, 18.32, 14.60],
    ['#888', '#e05050', '#888', '#111', '#5f705f', '#e040e0', '#888'], 2)]
});

// MACD panel
makePanel('macd', 309, 74, 0, {
  yMin: -3.47, yMax: 6.8, yTicks: macdTicks, hiddenGrid: [0],
  datasets: [
    hline(0, '#9a9aa8', [4, 2]),
    { type: 'bar', data: monthly(macdHist), backgroundColor: '#3b8ec3', barThickness: 3, grouped: false, order: 5 },
    lineSet(paired(signalMonths, signalLine), '#f04848', 1, { tension: 0.3 }),
    lineSet(paired(macdMonths, macdLine), '#111', 1.2, { tension: 0.3, order: 1 })
  ],
  plugins: [valueBoxes([2.207, 1.851, -0.356], ['#e05050', '#111', '#888'], 3)]
});

// MACD histogram panel
const histSets = [
  hline(0, '#9a9aa8', [4, 2]),
  { type: 'bar', data: monthly(macdHist), backgroundColor: '#3b8ec3', barThickness: 3, grouped: false, order: 5 },
  segment(histRedMonths, histRedValues, '#f02020', 1.3, [4, 2])
];
histBlueMonths.forEach((m, i) => histSets.push(segment(m, histBlueValues[i], '#3535e0', 1.3, [4, 2])));
makePanel('hist', 383, 73, 0, {
  yMin: -1.94, yMax: 2.625, yTicks: histTicks, hiddenGrid: [0], fmt: v => v.toFixed(1),
  datasets: histSets,
  plugins: [valueBoxes([-0.356], ['#888'], 3)]
});

// stochastics panel
makePanel('sto', 456, 74, 0, {
  yMin: -5.5, yMax: 105.5, yTicks: stoTicks, darkGrid: [80, 20], hiddenGrid: [50],
  datasets: [
    hline(50, '#9a9aa8', [6, 2, 2, 2]),
    lineSet(monthly(stoD), '#f05050', 1, { tension: 0.2 }),
    lineSet(monthly(stoK), '#111', 1.1, { tension: 0.2, order: 1 })
  ],
  plugins: [valueBoxes([58.76, 39.92], ['#e05050', '#111'], 2)]
});

// ADX panel
makePanel('adx', 530, 75, 9, {
  yMin: 2.7, yMax: 60.4, yTicks: adxTicks,
  datasets: [
    lineSet(paired(minusDIMonths, minusDI), '#c05a5a', 1, { tension: 0.2 }),
    lineSet(paired(plusDIMonths, plusDI), '#6b8f6b', 1, { tension: 0.2 }),
    lineSet(paired(adxMonths, adx), '#111', 1.5, { tension: 0.2, order: 1 })
  ],
  plugins: [valueBoxes([26.29, 21.63, 18.57], ['#111', '#6b8f6b', '#e05050'], 2)]
});
</script>
</body>
</html>
